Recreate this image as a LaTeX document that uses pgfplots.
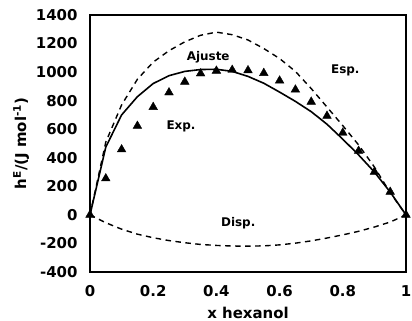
\documentclass[border=0pt]{standalone}
\usepackage{fontspec}
\setmainfont{DejaVu Sans}
\usepackage{pgfplots}
\pgfplotsset{compat=1.18}
\begin{document}
\begin{tikzpicture}
\begin{axis}[
  at={(90bp,49bp)}, anchor=south west,
  scale only axis, width=316bp, height=257bp,
  xmin=0, xmax=1, ymin=-400, ymax=1400,
  xtick={0,0.2,0.4,0.6,0.8,1},
  ytick={-400,-200,0,200,400,600,800,1000,1200,1400},
  tick style={draw=none},
  axis line style={line width=1.2bp},
  /pgf/number format/assume math mode=true,
  /pgf/number format/set thousands separator={},
  ticklabel style={font=\fontsize{15}{17}\selectfont\bfseries},
  xticklabel style={yshift=-10bp},
  yticklabel style={xshift=-9bp},
  xlabel={x hexanol},
  ylabel={h\textsuperscript{E}/(J mol\textsuperscript{-1})},
  label style={font=\fontsize{15}{17}\selectfont\bfseries},
  xlabel style={at={(axis description cs:0.5,-0.1595)}, anchor=center},
  ylabel style={at={(axis description cs:-0.218,0.5)}, anchor=center},
  clip=false,
]
% Esp. (upper dashed)
\addplot[black, line width=1.4bp, dash pattern=on 5.5bp off 4.5bp] coordinates {
(0,0) (0.05,510) (0.1,770) (0.15,950) (0.2,1070) (0.25,1150) (0.3,1212)
(0.35,1258) (0.4,1280) (0.45,1262) (0.5,1225) (0.55,1165) (0.6,1095)
(0.65,1005) (0.7,885) (0.75,755) (0.8,625) (0.85,490) (0.9,335) (0.95,155) (1,0)};
% Disp. (lower dashed)
\addplot[black, line width=1.4bp, dash pattern=on 5.5bp off 4.5bp] coordinates {
(0,0) (0.05,-55) (0.1,-100) (0.15,-135) (0.2,-160) (0.25,-180) (0.3,-195)
(0.35,-207) (0.4,-214) (0.45,-218) (0.5,-219) (0.55,-217) (0.6,-210)
(0.65,-198) (0.7,-182) (0.75,-162) (0.8,-140) (0.85,-115) (0.9,-85) (0.95,-50) (1,0)};
% Ajuste (solid)
\addplot[black, line width=1.6bp] coordinates {
(0,0) (0.05,475) (0.1,700) (0.15,828) (0.2,920) (0.25,975) (0.3,1005)
(0.35,1018) (0.4,1020) (0.45,1005) (0.5,970) (0.55,922) (0.6,860)
(0.65,795) (0.7,723) (0.75,635) (0.8,530) (0.85,420) (0.9,300) (0.95,160) (1,0)};
% Exp. (triangles)
\addplot[only marks, mark=triangle*, mark size=5bp, black] coordinates {
(0,0) (0.05,255) (0.1,458) (0.15,623) (0.2,755) (0.25,857) (0.3,932)
(0.35,990) (0.4,1009) (0.45,1015) (0.5,1012) (0.55,993) (0.6,940)
(0.65,877) (0.7,792) (0.75,693) (0.8,575) (0.85,448) (0.9,301) (0.95,161) (1,0)};
\node[font=\fontsize{12}{14}\selectfont\bfseries] at (axis cs:0.374,1106) {Ajuste};
\node[font=\fontsize{12}{14}\selectfont\bfseries] at (axis cs:0.808,1010) {Esp.};
\node[font=\fontsize{12}{14}\selectfont\bfseries] at (axis cs:0.288,620) {Exp.};
\node[font=\fontsize{12}{14}\selectfont\bfseries] at (axis cs:0.469,-56) {Disp.};
\end{axis}
\pgfresetboundingbox
\useasboundingbox (0,0) rectangle (412bp,321bp);
\end{tikzpicture}
\end{document}
